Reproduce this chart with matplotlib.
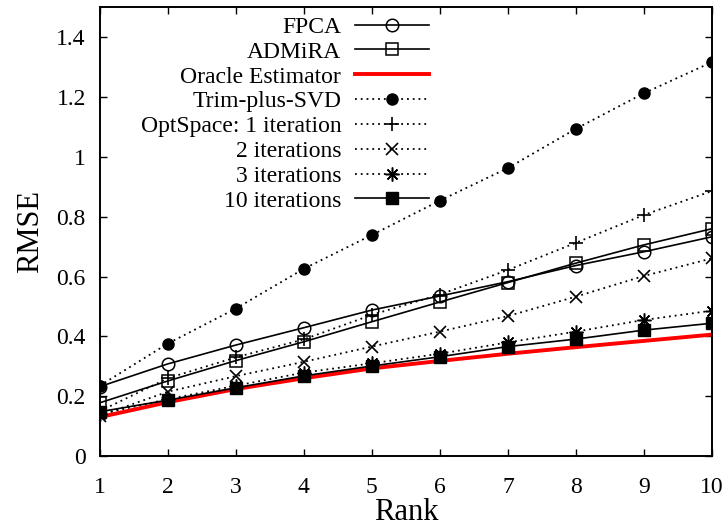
import matplotlib
matplotlib.use('Agg')
from matplotlib import pyplot as plt

plt.rcParams['font.family'] = ['Liberation Serif', 'DejaVu Serif']

rank = [1, 2, 3, 4, 5, 6, 7, 8, 9, 10]
fpca = [0.232, 0.308, 0.371, 0.429, 0.488, 0.535, 0.583, 0.637, 0.683, 0.733]
admira = [0.178, 0.251, 0.319, 0.382, 0.449, 0.515, 0.580, 0.645, 0.706, 0.760]
oracle = [0.130, 0.180, 0.224, 0.260, 0.293, 0.318, 0.342, 0.364, 0.385, 0.406]
trim_svd = [0.235, 0.376, 0.493, 0.626, 0.739, 0.854, 0.963, 1.094, 1.213, 1.317]
opt1 = [0.150, 0.260, 0.330, 0.390, 0.472, 0.540, 0.622, 0.713, 0.806, 0.886]
opt2 = [0.135, 0.215, 0.267, 0.315, 0.366, 0.416, 0.468, 0.533, 0.602, 0.661]
opt3 = [0.140, 0.190, 0.235, 0.279, 0.310, 0.342, 0.380, 0.416, 0.455, 0.486]
opt10 = [0.148, 0.187, 0.228, 0.268, 0.301, 0.332, 0.366, 0.391, 0.421, 0.444]

fig = plt.figure(figsize=(7.28, 5.26), dpi=100)
ax = fig.add_axes([0.137, 0.133, 0.841, 0.853])

dots = (0, (1, 2.2))
ax.plot(rank, fpca, '-', color='black', lw=1.2, marker='o', ms=9, mfc='none', mew=1.1,
        label='FPCA')
ax.plot(rank, admira, '-', color='black', lw=1.2, marker='s', ms=9, mfc='none', mew=1.1,
        label='ADMiRA')
ax.plot(rank, oracle, '-', color='red', lw=2.8, label='Oracle Estimator')
ax.plot(rank, trim_svd, linestyle=dots, color='black', lw=1.3, marker='o', ms=8,
        label='Trim-plus-SVD')
ax.plot(rank, opt1, linestyle=dots, color='black', lw=1.3, marker='+', ms=10, mew=1.2,
        label='OptSpace: 1 iteration')
ax.plot(rank, opt2, linestyle=dots, color='black', lw=1.3, marker='x', ms=9, mew=1.2,
        label='2 iterations')
ax.plot(rank, opt3, linestyle=dots, color='black', lw=1.3, marker=(8, 2, 0), ms=10, mew=1.1,
        label='3 iterations')
ax.plot(rank, opt10, '-', color='black', lw=1.2, marker='s', ms=8,
        label='10 iterations')

ax.set_xlim(1, 10)
ax.set_ylim(0, 1.5)
ax.set_xticks(rank)
ax.set_yticks([0, 0.2, 0.4, 0.6, 0.8, 1.0, 1.2, 1.4])
ax.set_yticklabels(['0', '0.2', '0.4', '0.6', '0.8', '1', '1.2', '1.4'])
ax.tick_params(direction='in', top=True, right=True, length=5, width=1,
               labelsize=17)
ax.tick_params(axis='y', pad=10)
ax.tick_params(axis='x', pad=15)
for s in ax.spines.values():
    s.set_linewidth(1.4)

ax.set_xlabel('Rank', fontsize=22, labelpad=0)
ax.set_ylabel('RMSE', fontsize=22, labelpad=8)

leg = ax.legend(loc='upper right', bbox_to_anchor=(0.537, 0.98), frameon=False,
                markerfirst=False, fontsize=17, handlelength=3.1, handletextpad=0.6,
                labelspacing=0.14, borderaxespad=0, borderpad=0)

fig.savefig('out.png', dpi=100)
